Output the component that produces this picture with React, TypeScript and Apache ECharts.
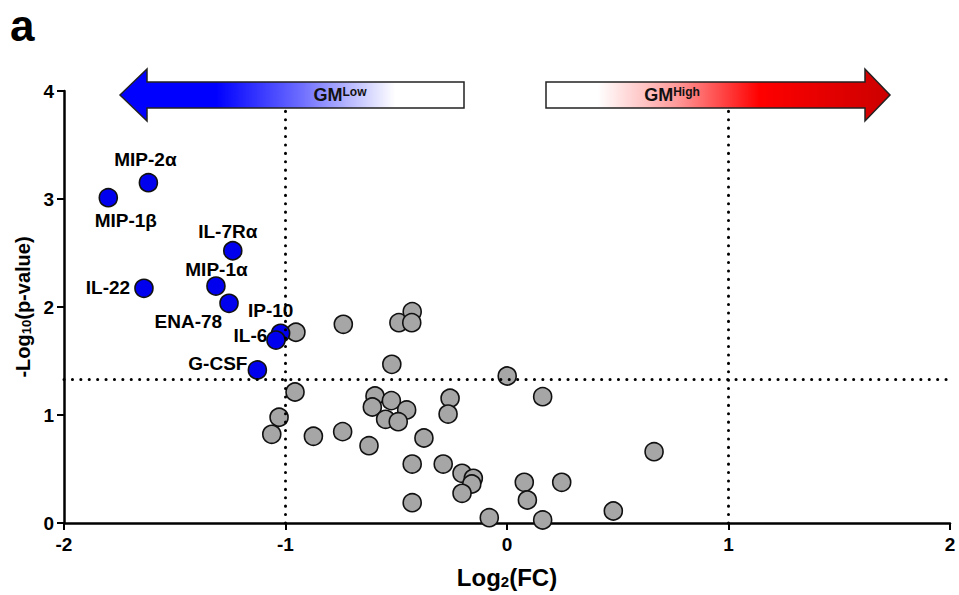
import React, { useEffect, useRef } from "react";
import * as echarts from "echarts";

// Significant (down-regulated) cytokines
const sigNames = ["MIP-2α", "MIP-1β", "IL-7Rα", "MIP-1α", "IL-22", "ENA-78", "IP-10", "IL-6", "G-CSF"];
const sigLog2FC = [-1.619, -1.8, -1.238, -1.314, -1.639, -1.255, -1.022, -1.043, -1.127];
const sigLogP = [3.151, 3.012, 2.521, 2.194, 2.173, 2.034, 1.756, 1.694, 1.417];

// Non-significant cytokines
const nsLog2FC = [
  -0.953, -0.957, -1.029, -1.062, -0.874, -0.739, -0.488, -0.428, -0.43, -0.52,
  0.001, 0.161, -0.596, -0.608, -0.522, -0.453, -0.548, -0.491, -0.257, -0.266,
  -0.742, -0.623, -0.375, 0.664, -0.428, -0.288, -0.203, -0.152, -0.159, -0.203,
  0.078, 0.247, 0.092, -0.428, -0.08, 0.161, 0.48,
];
const nsLogP = [
  1.766, 1.213, 0.979, 0.821, 0.803, 1.84, 1.855, 1.957, 1.855, 1.469,
  1.361, 1.17, 1.176, 1.074, 1.133, 1.047, 0.96, 0.938, 1.155, 1.009,
  0.846, 0.716, 0.787, 0.66, 0.546, 0.546, 0.46, 0.414, 0.361, 0.275,
  0.377, 0.377, 0.213, 0.188, 0.049, 0.028, 0.111,
];

const xTicks = [-2, -1, 0, 1, 2];
const yTicks = [0, 1, 2, 3, 4];
const pThreshold = 1.33;
const fcThresholds = [-1, 1];
const fcLineTop = 3.83;

// label placement (px offsets from point centre)
const labelOffsets: number[][] = [
  [-3, -22.7], [17.5, 22.3], [-5, -19], [0.5, -16.7], [-36, -1.3],
  [-40.7, 18.4], [-10, -22.5], [-25.5, -5], [-39.5, -6.7],
];

const FONT = '"Liberation Sans", Arial, Helvetica, sans-serif';

export default function App() {
  const ref = useRef<HTMLDivElement>(null);
  useEffect(() => {
    if (!ref.current) return;
    const chart = echarts.init(ref.current, null, { renderer: "svg" });

    const dotted = {
      color: "#000",
      width: 3,
      type: [0.1, 8.3] as any,
      cap: "round" as any,
    };

    const blueGrad = new echarts.graphic.LinearGradient(0, 0, 1, 0, [
      { offset: 0, color: "#0000ff" },
      { offset: 0.28, color: "#0000ff" },
      { offset: 0.52, color: "#6a6aff" },
      { offset: 0.8, color: "#ffffff" },
      { offset: 1, color: "#ffffff" },
    ]);
    const redGrad = new echarts.graphic.LinearGradient(0, 0, 1, 0, [
      { offset: 0, color: "#ffffff" },
      { offset: 0.15, color: "#ffffff" },
      { offset: 0.38, color: "#ff9a9a" },
      { offset: 0.62, color: "#ff0000" },
      { offset: 1, color: "#cc0000" },
    ]);

    const option: any = {
      animation: false,
      backgroundColor: "#fff",
      grid: { left: 64, right: 9, top: 91, bottom: 72, containLabel: false },
      xAxis: {
        type: "value",
        min: xTicks[0],
        max: xTicks[xTicks.length - 1],
        interval: 1,
        name: "{a|Log}{s|2}{a|(FC)}",
        nameLocation: "middle",
        nameGap: 42,
        nameTextStyle: {
          rich: {
            a: { fontFamily: FONT, fontWeight: "bold", fontSize: 24, lineHeight: 24, color: "#000" },
            s: { fontFamily: FONT, fontWeight: "bold", fontSize: 15, lineHeight: 10, verticalAlign: "bottom", color: "#000" },
          },
        },
        axisLine: { onZero: false, lineStyle: { color: "#000", width: 2.5 } },
        axisTick: { inside: false, length: 7, lineStyle: { color: "#000", width: 2 } },
        axisLabel: { margin: 12, color: "#000", fontFamily: FONT, fontWeight: "bold", fontSize: 19 },
        splitLine: { show: false },
      },
      yAxis: {
        type: "value",
        min: yTicks[0],
        max: yTicks[yTicks.length - 1],
        interval: 1,
        name: "{a|-Log}{s|10}{a|(p-value)}",
        nameLocation: "middle",
        nameRotate: 90,
        nameGap: 30,
        nameTextStyle: {
          rich: {
            a: { fontFamily: FONT, fontWeight: "bold", fontSize: 20, lineHeight: 20, color: "#000" },
            s: { fontFamily: FONT, fontWeight: "bold", fontSize: 13, lineHeight: 8, verticalAlign: "bottom", color: "#000" },
          },
        },
        axisLine: { onZero: false, lineStyle: { color: "#000", width: 2.5 } },
        axisTick: { inside: false, length: 7, lineStyle: { color: "#000", width: 2 } },
        axisLabel: { margin: 10, color: "#000", fontFamily: FONT, fontWeight: "bold", fontSize: 19 },
        splitLine: { show: false },
      },
      series: [
        {
          type: "scatter",
          name: "thresholds",
          data: [],
          z: 1,
          silent: true,
          markLine: {
            silent: true,
            symbol: "none",
            label: { show: false },
            lineStyle: dotted,
            data: [
              ...fcThresholds.map((v) => [{ coord: [v, 0] }, { coord: [v, fcLineTop] }]),
              [{ coord: [xTicks[0], pThreshold] }, { coord: [xTicks[xTicks.length - 1], pThreshold] }],
            ],
          },
        },
        {
          type: "scatter",
          name: "ns",
          z: 2,
          symbol: "circle",
          symbolSize: 18,
          itemStyle: { color: "#a6a6a6", borderColor: "#111", borderWidth: 1.6, opacity: 1 },
          data: nsLog2FC.map((x, i) => [x, nsLogP[i]]),
        },
        {
          type: "scatter",
          name: "sig",
          z: 3,
          symbol: "circle",
          symbolSize: 18,
          itemStyle: { color: "#0000ee", borderColor: "#111", borderWidth: 1.6, opacity: 1 },
          data: sigLog2FC.map((x, i) => ({
            value: [x, sigLogP[i]],
            name: sigNames[i],
            label: {
              show: true,
              formatter: sigNames[i],
              position: "inside",
              offset: labelOffsets[i],
              align: "center",
              verticalAlign: "middle",
              color: "#000",
              fontFamily: FONT,
              fontWeight: "bold",
              fontSize: 19,
            },
          })),
        },
      ],
      graphic: [
        {
          type: "text",
          x: 10,
          y: 25,
          style: { text: "a", font: `bold 44px ${FONT}`, fill: "#000", verticalAlign: "middle", align: "left" },
          z: 10,
        },
        {
          type: "polygon",
          shape: {
            points: [
              [120, 95], [147, 69], [147, 82], [464, 82], [464, 108], [147, 108], [147, 121],
            ],
          },
          style: { fill: blueGrad, stroke: "#222", lineWidth: 1.5 },
          z: 5,
        },
        {
          type: "polygon",
          shape: {
            points: [
              [546, 82], [865, 82], [865, 69], [890, 95], [865, 121], [865, 108], [546, 108],
            ],
          },
          style: { fill: redGrad, stroke: "#222", lineWidth: 1.5 },
          z: 5,
        },
        {
          type: "text",
          x: 340,
          y: 95,
          z: 6,
          style: {
            text: "{a|GM}{b|Low}",
            align: "center",
            verticalAlign: "middle",
            rich: {
              a: { fontFamily: FONT, fontWeight: "bold", fontSize: 18, lineHeight: 18, fill: "#111" },
              b: { fontFamily: FONT, fontWeight: "bold", fontSize: 12, lineHeight: 8, verticalAlign: "top", fill: "#111" },
            },
          },
        },
        {
          type: "text",
          x: 672,
          y: 95,
          z: 6,
          style: {
            text: "{a|GM}{b|High}",
            align: "center",
            verticalAlign: "middle",
            rich: {
              a: { fontFamily: FONT, fontWeight: "bold", fontSize: 18, lineHeight: 18, fill: "#111" },
              b: { fontFamily: FONT, fontWeight: "bold", fontSize: 12, lineHeight: 8, verticalAlign: "top", fill: "#111" },
            },
          },
        },
      ],
    };

    chart.setOption(option);
    return () => chart.dispose();
  }, []);

  return <div ref={ref} style={{ width: 959, height: 595, position: "fixed", left: 0, top: 0, background: "#fff" }} />;
}
